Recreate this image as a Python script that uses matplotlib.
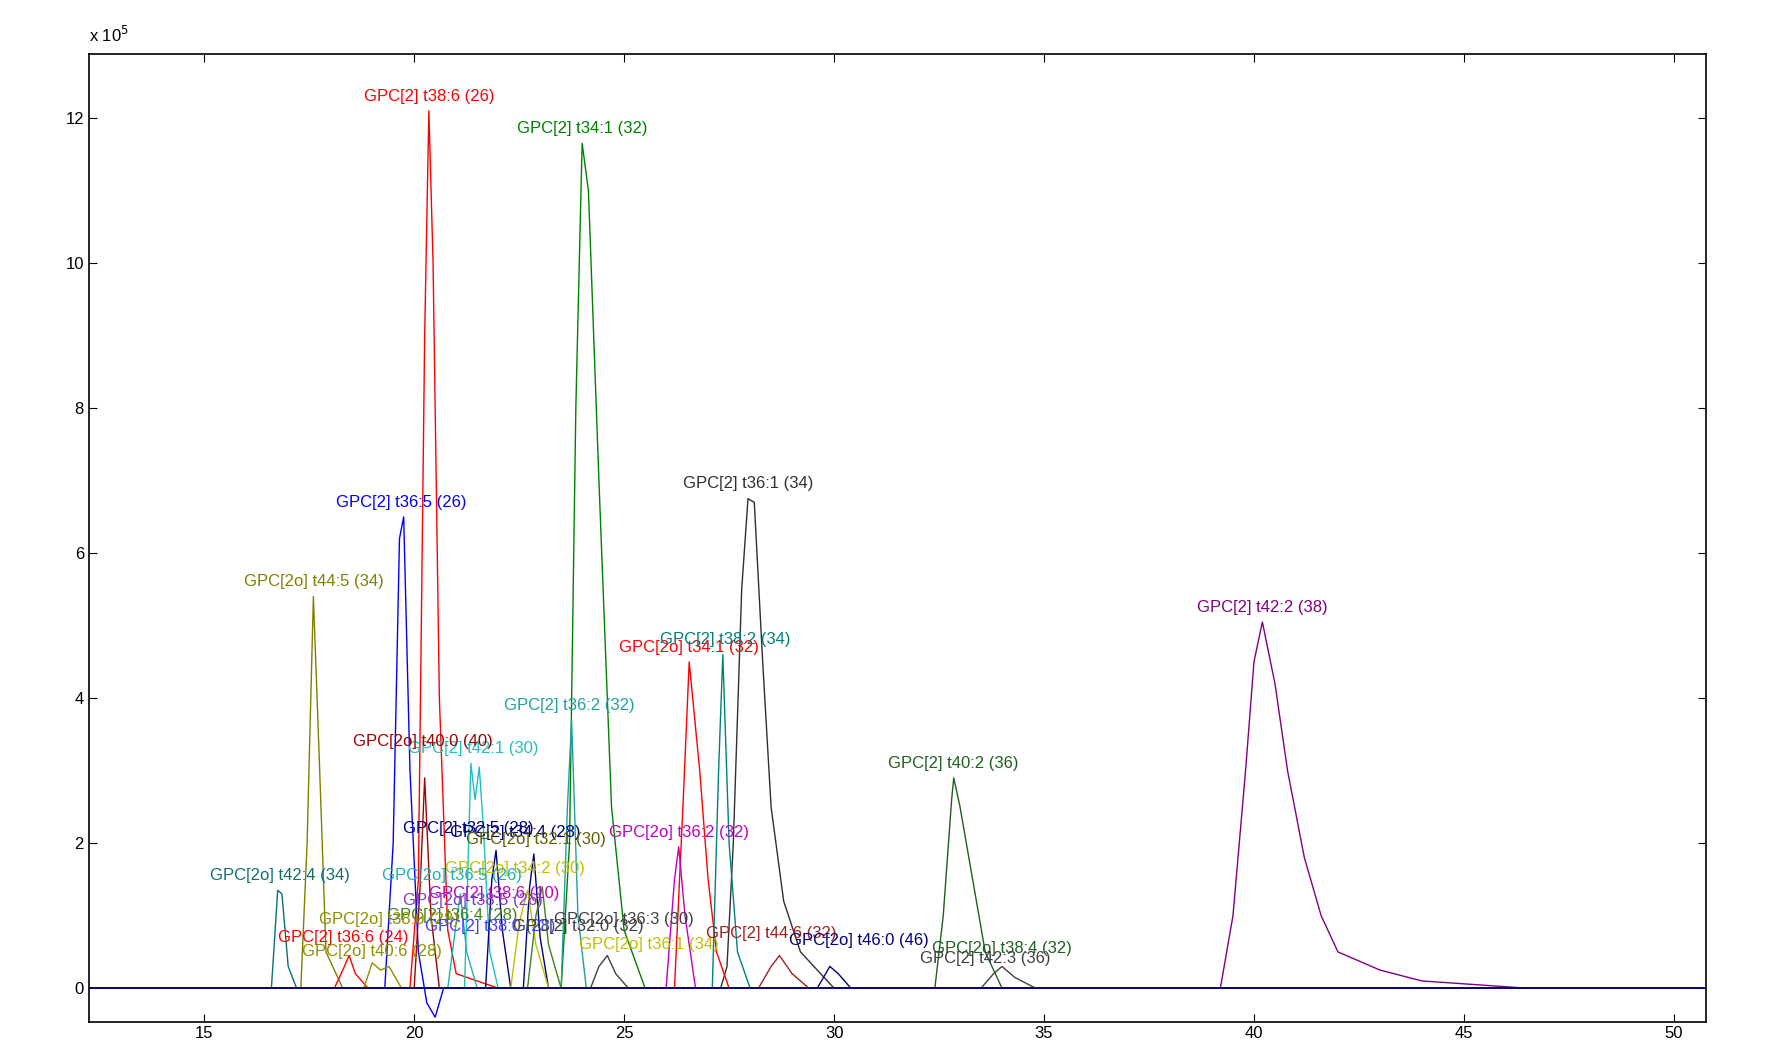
import matplotlib
matplotlib.use('Agg')
import matplotlib.pyplot as plt

plt.rcParams['font.family'] = 'Liberation Sans'

# trace vertices (retention time, intensity x 1e5)
t38_6_x = [12.3, 19.9, 20.1, 20.25, 20.35, 20.45, 20.6, 20.8, 21.0, 22.0, 50.7]
t38_6_y = [0, 0, 1.5, 9.0, 12.1, 10.0, 4.0, 0.8, 0.2, 0, 0]
t34_1_x = [12.3, 23.5, 23.7, 23.85, 24.0, 24.15, 24.4, 24.7, 25.0, 25.5, 50.7]
t34_1_y = [0, 0, 2.0, 8.0, 11.65, 11.0, 7.0, 2.5, 0.8, 0, 0]
t36_1_x = [12.3, 27.3, 27.45, 27.6, 27.8, 27.95, 28.1, 28.3, 28.5, 28.8, 29.2, 30.0, 50.7]
t36_1_y = [0, 0, 0.3, 2.0, 5.5, 6.75, 6.7, 4.5, 2.5, 1.2, 0.5, 0, 0]
t36_5_x = [12.3, 19.3, 19.5, 19.65, 19.75, 19.9, 20.1, 20.3, 20.5, 20.7, 50.7]
t36_5_y = [0, 0, 2.0, 6.2, 6.5, 3.0, 0.5, -0.2, -0.4, 0, 0]
t44_5_x = [12.3, 17.3, 17.45, 17.6, 17.75, 17.9, 18.3, 50.7]
t44_5_y = [0, 0, 2.0, 5.4, 3.0, 0.5, 0, 0]
t42_2_x = [12.3, 39.2, 39.5, 39.8, 40.0, 40.2, 40.5, 40.8, 41.2, 41.6, 42.0, 43.0, 44.0, 46.5, 50.7]
t42_2_y = [0, 0, 1.0, 3.0, 4.5, 5.05, 4.2, 3.0, 1.8, 1.0, 0.5, 0.25, 0.1, 0, 0]
o34_1_x = [12.3, 26.2, 26.4, 26.55, 26.8, 27.0, 27.2, 27.5, 50.7]
o34_1_y = [0, 0, 2.5, 4.5, 3.0, 1.5, 0.5, 0, 0]
t38_2_x = [12.3, 27.1, 27.25, 27.35, 27.5, 27.7, 28.0, 50.7]
t38_2_y = [0, 0, 3.0, 4.6, 2.0, 0.5, 0, 0]
t36_2_x = [12.3, 23.5, 23.65, 23.75, 23.9, 24.1, 50.7]
t36_2_y = [0, 0, 2.5, 3.7, 1.0, 0, 0]
t40_2_x = [12.3, 32.4, 32.6, 32.8, 32.85, 33.0, 33.3, 33.6, 34.0, 50.7]
t40_2_y = [0, 0, 1.0, 2.6, 2.9, 2.5, 1.5, 0.5, 0, 0]
o40_0_x = [12.3, 20.0, 20.15, 20.25, 20.4, 20.6, 50.7]
o40_0_y = [0, 0, 1.5, 2.9, 1.0, 0, 0]
t42_1_x = [12.3, 21.2, 21.35, 21.45, 21.55, 21.65, 21.8, 22.0, 50.7]
t42_1_y = [0, 0, 3.1, 2.6, 3.05, 2.2, 0.5, 0, 0]
o42_4_x = [12.3, 16.6, 16.75, 16.85, 17.0, 17.2, 50.7]
o42_4_y = [0, 0, 1.35, 1.3, 0.3, 0, 0]
o36_2_x = [12.3, 26.0, 26.2, 26.3, 26.45, 26.7, 50.7]
o36_2_y = [0, 0, 1.5, 1.95, 1.0, 0, 0]
t32_5_x = [12.3, 21.7, 21.85, 21.95, 22.1, 22.3, 50.7]
t32_5_y = [0, 0, 1.5, 1.9, 0.8, 0, 0]
t34_4_x = [12.3, 22.6, 22.75, 22.85, 23.0, 23.2, 50.7]
t34_4_y = [0, 0, 1.4, 1.85, 0.7, 0, 0]
o34_2_x = [12.3, 22.3, 22.5, 22.7, 22.9, 23.2, 50.7]
o34_2_y = [0, 0, 0.9, 1.35, 0.6, 0, 0]
o36_5_x = [12.3, 20.8, 21.0, 21.1, 21.25, 21.5, 50.7]
o36_5_y = [0, 0, 0.9, 1.3, 0.5, 0, 0]
t36_4_x = [12.3, 22.7, 22.9, 23.05, 23.2, 23.5, 50.7]
t36_4_y = [0, 0, 1.0, 1.4, 0.6, 0, 0]
t36_6_x = [12.3, 18.1, 18.3, 18.45, 18.6, 18.9, 50.7]
t36_6_y = [0, 0, 0.25, 0.45, 0.2, 0, 0]
o40_6_x = [12.3, 18.8, 19.0, 19.2, 19.4, 19.7, 50.7]
o40_6_y = [0, 0, 0.35, 0.25, 0.3, 0, 0]
o36_3_x = [12.3, 24.2, 24.4, 24.6, 24.8, 25.1, 50.7]
o36_3_y = [0, 0, 0.3, 0.45, 0.2, 0, 0]
t44_6_x = [12.3, 28.2, 28.5, 28.7, 29.0, 29.4, 50.7]
t44_6_y = [0, 0, 0.3, 0.45, 0.2, 0, 0]
o46_0_x = [12.3, 29.6, 29.9, 30.1, 30.4, 50.7]
o46_0_y = [0, 0, 0.3, 0.2, 0, 0]
t42_3_x = [12.3, 33.5, 33.8, 34.0, 34.3, 34.8, 50.7]
t42_3_y = [0, 0, 0.2, 0.3, 0.15, 0, 0]

traces = [
    (t38_6_x, t38_6_y, '#ff0000'), (t34_1_x, t34_1_y, '#008000'),
    (t36_1_x, t36_1_y, '#303030'), (t36_5_x, t36_5_y, '#0000ff'),
    (t44_5_x, t44_5_y, '#808000'), (t42_2_x, t42_2_y, '#800080'),
    (o34_1_x, o34_1_y, '#ff0000'), (t38_2_x, t38_2_y, '#008080'),
    (t36_2_x, t36_2_y, '#20a0a0'), (t40_2_x, t40_2_y, '#206020'),
    (o40_0_x, o40_0_y, '#a00000'), (t42_1_x, t42_1_y, '#20c0c0'),
    (o42_4_x, o42_4_y, '#107070'), (o36_2_x, o36_2_y, '#c000c0'),
    (t32_5_x, t32_5_y, '#000080'), (t34_4_x, t34_4_y, '#000080'),
    (o34_2_x, o34_2_y, '#c0c000'), (o36_5_x, o36_5_y, '#20b0b0'),
    (t36_4_x, t36_4_y, '#408020'), (t36_6_x, t36_6_y, '#ff0000'),
    (o40_6_x, o40_6_y, '#909000'), (o36_3_x, o36_3_y, '#404040'),
    (t44_6_x, t44_6_y, '#a02020'), (o46_0_x, o46_0_y, '#000080'),
    (t42_3_x, t42_3_y, '#404040'),
]

# peak labels: text, x, y, colour
labels = [
    ('GPC[2] t38:6 (26)', 20.35, 12.2, '#ff0000'),
    ('GPC[2] t34:1 (32)', 24.0, 11.75, '#008000'),
    ('GPC[2] t36:1 (34)', 27.95, 6.85, '#303030'),
    ('GPC[2] t36:5 (26)', 19.7, 6.6, '#0000ff'),
    ('GPC[2o] t44:5 (34)', 17.6, 5.5, '#808000'),
    ('GPC[2] t42:2 (38)', 40.2, 5.15, '#800080'),
    ('GPC[2o] t34:1 (32)', 26.55, 4.6, '#ff0000'),
    ('GPC[2] t38:2 (34)', 27.4, 4.7, '#008080'),
    ('GPC[2] t36:2 (32)', 23.7, 3.8, '#20a0a0'),
    ('GPC[2] t40:2 (36)', 32.85, 3.0, '#206020'),
    ('GPC[2] t42:1 (30)', 21.4, 3.2, '#20c0c0'),
    ('GPC[2o] t40:0 (40)', 20.2, 3.3, '#a00000'),
    ('GPC[2o] t42:4 (34)', 16.8, 1.45, '#107070'),
    ('GPC[2o] t36:2 (32)', 26.3, 2.05, '#c000c0'),
    ('GPC[2] t34:4 (28)', 22.4, 2.05, '#000080'),
    ('GPC[2] t32:5 (28)', 21.3, 2.1, '#000080'),
    ('GPC[2o] t32:1 (30)', 22.9, 1.95, '#606000'),
    ('GPC[2o] t34:2 (30)', 22.4, 1.55, '#c0c000'),
    ('GPC[2o] t36:5 (26)', 20.9, 1.45, '#20b0b0'),
    ('GPC[2] t38:6 (10)', 21.9, 1.2, '#c000c0'),
    ('GPC[2o] t38:5 (26)', 21.4, 1.1, '#8040c0'),
    ('GPC[2] t36:4 (28)', 20.9, 0.9, '#408020'),
    ('GPC[2o] t38:0 (28)', 19.4, 0.85, '#909000'),
    ('GPC[2] t36:6 (24)', 18.3, 0.6, '#ff0000'),
    ('GPC[2o] t40:6 (28)', 19.0, 0.4, '#909000'),
    ('GPC[2] t38:0 (28)', 21.8, 0.75, '#4040ff'),
    ('GPC[2] t32:0 (32)', 23.9, 0.75, '#404040'),
    ('GPC[2o] t36:3 (30)', 25.0, 0.85, '#404040'),
    ('GPC[2o] t36:1 (34)', 25.6, 0.5, '#c0c000'),
    ('GPC[2] t44:6 (32)', 28.5, 0.65, '#a02020'),
    ('GPC[2o] t46:0 (46)', 30.6, 0.55, '#000080'),
    ('GPC[2o] t38:4 (32)', 34.0, 0.45, '#206020'),
    ('GPC[2] t42:3 (36)', 33.6, 0.3, '#404040'),
]

fig = plt.figure(figsize=(17.75, 10.63), dpi=100)
ax = fig.add_axes([0.050, 0.039, 0.911, 0.910])
for xs, ys, c in traces:
    ax.plot(xs, ys, color=c, lw=1)
ax.axhline(0, color='#000080', lw=1.2)
for txt, x, y, c in labels:
    ax.text(x, y, txt, color=c, fontsize=12, ha='center', va='bottom')

ax.set_xlim(12.25, 50.76)
ax.set_ylim(-0.46, 12.88)
ax.set_xticks([15, 20, 25, 30, 35, 40, 45, 50])
ax.set_yticks([0, 2, 4, 6, 8, 10, 12])
ax.tick_params(direction='in', top=True, right=True, labelsize=12, length=6)
for s in ax.spines.values():
    s.set_linewidth(1.2)
fig.text(0.050, 0.958, r'x 10$^5$', fontsize=12, ha='left', va='bottom')
fig.savefig('out.png')
